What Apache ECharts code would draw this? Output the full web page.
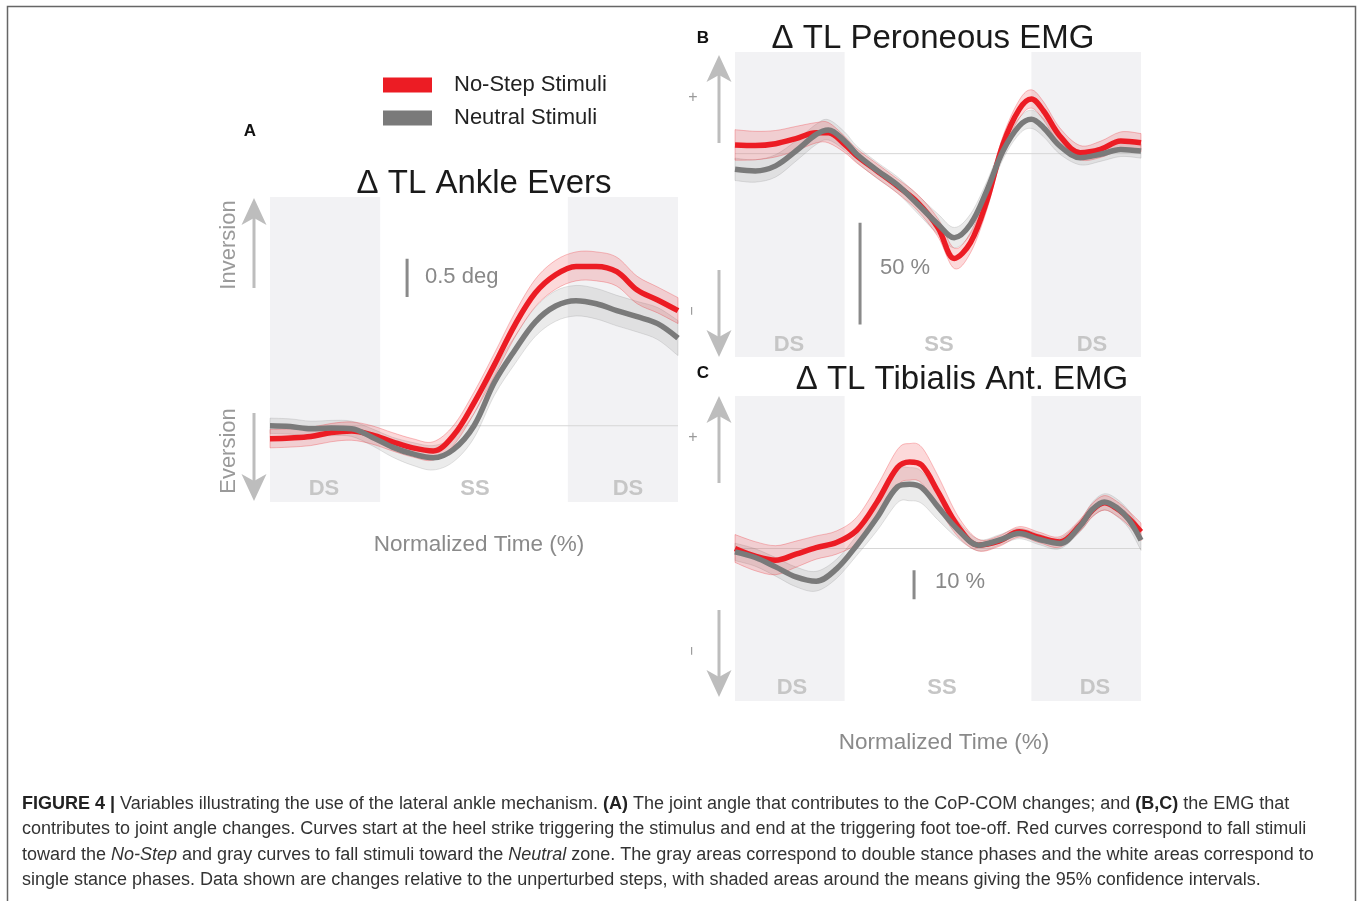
<!DOCTYPE html>
<html><head><meta charset="utf-8">
<script src="https://cdn.jsdelivr.net/npm/echarts@6/dist/echarts.min.js"></script>
<style>html,body{margin:0;padding:0;background:#fff}#c{width:1360px;height:901px}</style>
</head><body><div id="c"></div>
<script>
// ---------- DATA ----------
// Panel A: Δ TL Ankle Evers (deg), normalized time (%)
const tA = [0,5,10,15,20,25,30,35,40,45,50,55,60,65,70,75,80,85,90,95,100];
const noStepA  = [-0.17,-0.16,-0.14,-0.09,-0.07,-0.12,-0.21,-0.29,-0.33,-0.125,0.30,0.80,1.32,1.74,1.98,2.09,2.09,2.02,1.78,1.65,1.51];
const neutralA = [0.0,-0.01,-0.04,-0.03,-0.04,-0.15,-0.28,-0.37,-0.42,-0.31,0.0,0.57,0.99,1.36,1.57,1.64,1.60,1.51,1.43,1.34,1.15];
const noStepCiA  = [0.12,0.12,0.12,0.12,0.12,0.12,0.12,0.12,0.12,0.13,0.14,0.15,0.16,0.18,0.19,0.19,0.19,0.19,0.18,0.17,0.17];
const neutralCiA = [0.1,0.1,0.1,0.1,0.1,0.11,0.13,0.15,0.16,0.16,0.16,0.17,0.18,0.19,0.2,0.2,0.2,0.2,0.2,0.21,0.23];

// Panel B: Δ TL Peroneous EMG (%)
const tB = [0,5,10,15,20,23,27,30,35,40,45,50,54,58,62,66,70,73,76,80,85,90,95,100];
const noStepB  = [4.3,4.0,4.9,7.4,10.3,10.3,4.6,-1.1,-8.5,-15.9,-24.1,-36.4,-51.5,-43.8,-23.3,4.6,21.8,26.9,21.0,8.7,0.5,2.1,6.2,5.4];
const neutralB = [-7.7,-8.5,-6.0,1.3,9.5,11.7,6.2,-0.3,-8.2,-15.4,-24.9,-34.7,-41.3,-34.7,-18.3,1.3,13.6,16.9,12.8,3.8,-2.0,-0.3,2.1,1.3];
const noStepCiB  = [7.5,7,6.5,6,5,5,4,3.5,3.5,3.5,4,4.5,5,5,4.5,4,4.5,4.5,4.5,4,3.5,4,4.5,4.5];
const neutralCiB = [5.5,5.5,5.5,5,5,5,4.5,4,4,4,4.5,5,5,5,4.5,4,4,4.5,4.5,4,3.5,3.5,3.5,3.5];

// Panel C: Δ TL Tibialis Ant. EMG (%)
const tC = [0,5,10,15,20,25,30,35,40,43,46,50,55,60,65,70,75,80,85,88,91,94,97,100];
const noStepC  = [0.0,-2.65,-4.03,-1.96,0.33,2.05,6.3,16.05,27.87,29.82,28.67,19.5,7.45,1.14,2.51,5.73,3.78,2.28,8.02,13.18,15.71,13.76,10.32,5.73];
const neutralC = [-1.16,-3.11,-6.32,-9.77,-11.26,-7.01,1.14,10.66,21.22,22.13,20.99,14.33,6.3,1.14,2.86,5.15,3.1,1.72,7.7,13.41,16.05,14.1,9.97,2.86];
const noStepCiC  = [4.8,5,5,4.5,4,4,4.5,5.5,6.2,6.3,6.2,5.5,3.5,2,1.8,1.8,1.8,1.8,2,2.3,2.5,2.5,2.5,3];
const neutralCiC = [3,3,3.2,3.4,3.4,3.3,3.5,4.5,5.5,5.7,5.5,4.5,3,2,1.8,1.8,1.8,1.8,2,2.5,2.8,3,3,3.5];

// phases (% of normalized time)
const dsPhases = [[0,27],[73,100]];
const phaseLabels = ['DS','SS','DS'];
// y ranges
const yRangeA = [-1.0, 3.0];
const yRangeB = [-100, 50];
const yRangeC = [-52.5, 52.5];
// scale bars: [time, from, to]
const scaleBarA = [33.6, 1.69, 2.19];
const scaleBarB = [30.8, -34, -84];
const scaleBarC = [44.1, -7.5, -17.5];
const seriesNames = ['No-Step Stimuli','Neutral Stimuli'];

// ---------- STYLE ----------
const FONT = '"Liberation Sans", Arial, Helvetica, sans-serif';
const RED = '#ec1c24', GRAY = '#7a7a7a';
const RED_FILL = 'rgba(236,28,36,0.17)', RED_EDGE = 'rgba(236,28,36,0.35)';
const GRAY_FILL = 'rgba(130,130,130,0.16)', GRAY_EDGE = 'rgba(130,130,130,0.28)';
const SHADE = '#f2f2f4';
const SM = 0.35;

const zip = (t, v) => t.map((x, k) => [x, v[k]]);

// Catmull-Rom -> cubic bezier path segments through pixel points
function crPath(P) {
  let d = '';
  for (let i = 0; i < P.length - 1; i++) {
    const p0 = P[i-1] || P[i], p1 = P[i], p2 = P[i+1], p3 = P[i+2] || P[i+1];
    const c1 = [p1[0] + (p2[0]-p0[0])/6, p1[1] + (p2[1]-p0[1])/6];
    const c2 = [p2[0] - (p3[0]-p1[0])/6, p2[1] - (p3[1]-p1[1])/6];
    d += 'C' + c1[0].toFixed(2) + ',' + c1[1].toFixed(2) + ' ' + c2[0].toFixed(2) + ',' + c2[1].toFixed(2) + ' ' + p2[0].toFixed(2) + ',' + p2[1].toFixed(2);
  }
  return d;
}

function bandSeries(gi, t, mean, ci, fill, edge) {
  const up = mean.map((m,k)=>m+ci[k]);
  const lo = mean.map((m,k)=>m-ci[k]);
  return {type:'custom', xAxisIndex:gi, yAxisIndex:gi, silent:true, z:3, data:[[t[0], mean[0]]],
    renderItem:(params, api) => {
      const U = t.map((x,k)=>api.coord([x, up[k]]));
      const L = t.map((x,k)=>api.coord([x, lo[k]])).reverse();
      const d = 'M' + U[0][0].toFixed(2) + ',' + U[0][1].toFixed(2) + crPath(U) +
                'L' + L[0][0].toFixed(2) + ',' + L[0][1].toFixed(2) + crPath(L) + 'Z';
      return {type:'path', shape:{pathData:d}, style:{fill:fill, stroke:edge, lineWidth:0.8}};
    }};
}

function panelSeries(gi, t, red, redCi, gray, grayCi, bar) {
  const s = [];
  s.push({type:'line', xAxisIndex:gi, yAxisIndex:gi, data:[[0,0],[100,0]], symbol:'none', silent:true,
    lineStyle:{color:'rgba(0,0,0,0)', width:0}, z:1,
    markArea:{silent:true, itemStyle:{color:SHADE}, data: dsPhases.map(p=>[{xAxis:p[0]},{xAxis:p[1]}])}});
  s.push({type:'line', xAxisIndex:gi, yAxisIndex:gi, data:[[0,0],[100,0]], symbol:'none', silent:true,
    lineStyle:{color:'#d6d6d6', width:1}, z:2});
  s.push(bandSeries(gi, t, gray, grayCi, GRAY_FILL, GRAY_EDGE));
  s.push(bandSeries(gi, t, red, redCi, RED_FILL, RED_EDGE));
  s.push({type:'line', name:seriesNames[0], xAxisIndex:gi, yAxisIndex:gi, data:zip(t, red), smooth:SM,
    symbol:'none', lineStyle:{color:RED, width:5.5}, itemStyle:{color:RED}, z:4});
  s.push({type:'line', name:seriesNames[1], xAxisIndex:gi, yAxisIndex:gi, data:zip(t, gray), smooth:SM,
    symbol:'none', lineStyle:{color:GRAY, width:5.5}, itemStyle:{color:GRAY}, z:5});
  s.push({type:'line', xAxisIndex:gi, yAxisIndex:gi, data:[[bar[0],bar[1]],[bar[0],bar[2]]], symbol:'none',
    silent:true, lineStyle:{color:'#8a8a8a', width:3}, z:6});
  return s;
}

const grids = [
  {left:270, top:197, width:408, height:305},
  {left:735, top:52, width:406, height:305},
  {left:735, top:396, width:406, height:305}
];
const hiddenAxis = {show:false};
const xAxes = grids.map((g,i)=>({type:'value', gridIndex:i, min:0, max:100, ...hiddenAxis}));
const yr = [yRangeA, yRangeB, yRangeC];
const yAxes = grids.map((g,i)=>({type:'value', gridIndex:i, min:yr[i][0], max:yr[i][1], ...hiddenAxis}));

// ---------- GRAPHICS (annotations) ----------
const G = [];
function txt(x, y, text, o) {
  o = o || {};
  G.push({type:'text', x, y, rotation:o.rot||0, silent:true, z:10,
    style:{text, x:0, y:0, fill:o.fill||'#222', fontSize:o.size||16, fontFamily:FONT,
      fontWeight:o.weight||'normal', fontStyle:o.style||'normal',
      textAlign:o.align||'center', textVerticalAlign:'middle', rich:o.rich}});
}
function arrow(x, tail, tip) {
  const d = tip < tail ? 1 : -1; // up arrow => d=1
  const base = tip + d*20, wing = tip + d*27;
  G.push({type:'line', silent:true, z:10, shape:{x1:x, y1:tail, x2:x, y2:base}, style:{stroke:'#bdbdbd', lineWidth:3}});
  G.push({type:'polygon', silent:true, z:10, shape:{points:[[x,tip],[x+12.5,wing],[x,base],[x-12.5,wing]]}, style:{fill:'#bdbdbd'}});
}
// frame
G.push({type:'polyline', silent:true, shape:{points:[[7.5,901],[7.5,6.5],[1355.5,6.5],[1355.5,901]]}, style:{stroke:'#666', lineWidth:1.5, fill:null}});
// panel letters
txt(250,131,'A',{weight:'bold', size:17, fill:'#111'});
txt(703,38,'B',{weight:'bold', size:17, fill:'#111'});
txt(703,373,'C',{weight:'bold', size:17, fill:'#111'});
// titles
txt(484,184,'Δ TL Ankle Evers',{size:33, fill:'#1a1a1a'});
txt(933,39,'Δ TL Peroneous EMG',{size:33, fill:'#1a1a1a'});
txt(962,380,'Δ TL Tibialis Ant. EMG',{size:33, fill:'#1a1a1a'});
// phase labels
const phaseX = [[324,475,628],[789,939,1092],[792,942,1095]];
const phaseY = [489,345,688];
phaseX.forEach((xs,i)=>xs.forEach((x,k)=>txt(x,phaseY[i],phaseLabels[k],{weight:'bold', size:22, fill:'#c6c6c6'})));
// scale bar labels
txt(425,277,'0.5 deg',{size:22, fill:'#888', align:'left'});
txt(880,268,'50 %',{size:22, fill:'#888', align:'left'});
txt(935,582,'10 %',{size:22, fill:'#888', align:'left'});
// direction arrows
arrow(254,288,198); arrow(254,413,501);
arrow(719,143,55); arrow(719,270,357);
arrow(719,483,396); arrow(719,610,697);
txt(229,245,'Inversion',{size:22, fill:'#9a9a9a', rot:Math.PI/2});
txt(229,451,'Eversion',{size:22, fill:'#9a9a9a', rot:Math.PI/2});
txt(693,98,'+',{size:16, fill:'#999'});
txt(693,311,'−',{size:16, fill:'#999', rot:Math.PI/2});
txt(693,438,'+',{size:16, fill:'#999'});
txt(693,651,'−',{size:16, fill:'#999', rot:Math.PI/2});
// x axis names
txt(479,545,'Normalized Time (%)',{size:22.5, fill:'#8a8a8a'});
txt(944,743,'Normalized Time (%)',{size:22.5, fill:'#8a8a8a'});
// caption
const CAP = 18;
const capRich = {b:{fontWeight:'bold', fontSize:CAP, fontFamily:FONT, fill:'#222'}, i:{fontStyle:'italic', fontSize:CAP, fontFamily:FONT, fill:'#333'}};
const capLines = [
  '{b|FIGURE 4 |} Variables illustrating the use of the lateral ankle mechanism. {b|(A)} The joint angle that contributes to the CoP-COM changes; and {b|(B,C)} the EMG that',
  'contributes to joint angle changes. Curves start at the heel strike triggering the stimulus and end at the triggering foot toe-off. Red curves correspond to fall stimuli',
  'toward the {i|No-Step} and gray curves to fall stimuli toward the {i|Neutral} zone. The gray areas correspond to double stance phases and the white areas correspond to',
  'single stance phases. Data shown are changes relative to the unperturbed steps, with shaded areas around the means giving the 95% confidence intervals.'
];
const capY = [804,829,855,880];
capLines.forEach((l,i)=>txt(22,capY[i],l,{size:CAP, fill:'#333', align:'left', rich:capRich}));

const series = [
  ...panelSeries(0, tA, noStepA, noStepCiA, neutralA, neutralCiA, scaleBarA),
  ...panelSeries(1, tB, noStepB, noStepCiB, neutralB, neutralCiB, scaleBarB),
  ...panelSeries(2, tC, noStepC, noStepCiC, neutralC, neutralCiC, scaleBarC)
];

const chart = echarts.init(document.getElementById('c'), null, {renderer:'canvas'});
chart.setOption({
  animation:false,
  backgroundColor:'#fff',
  grid:grids,
  xAxis:xAxes,
  yAxis:yAxes,
  legend:{data:seriesNames, orient:'vertical', left:383, top:74, padding:0, itemWidth:49, itemHeight:15, itemGap:11,
    icon:'rect', selectedMode:false,
    textStyle:{fontSize:22, color:'#222', fontFamily:FONT, padding:[0,0,0,17]}},
  series,
  graphic:G
});
</script></body></html>
